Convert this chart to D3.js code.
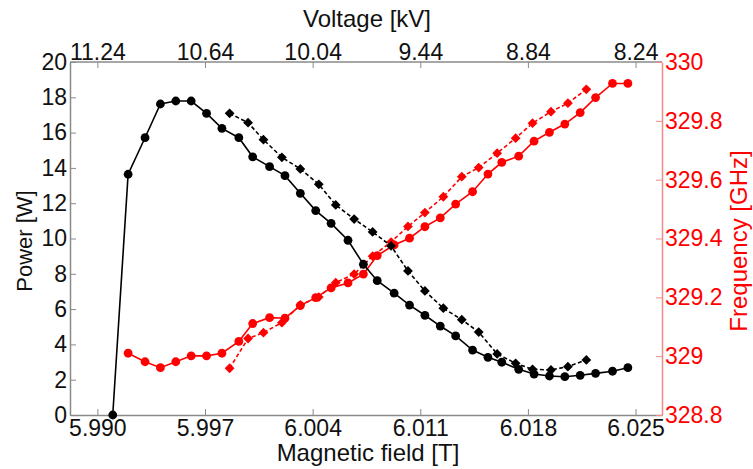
<!DOCTYPE html>
<html>
<head>
<meta charset="utf-8">
<script src="https://cdn.jsdelivr.net/npm/d3@7"></script>
<style>
  body { margin: 0; background: #fff; }
  svg { display: block; }
  text { font-family: "Liberation Sans", Arial, sans-serif; }
</style>
</head>
<body>
<svg id="chart" width="753" height="469"></svg>
<script>
// ---------- DATA ----------
// Sweep 1 (circles, solid)
const fieldSweep1 = [5.9910, 5.9920, 5.9931, 5.9941, 5.9951, 5.9961, 5.9971, 5.9981, 5.9992, 6.0001,
  6.0012, 6.0022, 6.0032, 6.0042, 6.0052, 6.0063, 6.0073, 6.0082, 6.0093, 6.0103,
  6.0113, 6.0123, 6.0133, 6.0144, 6.0154, 6.0163, 6.0174, 6.0184, 6.0194, 6.0204,
  6.0214, 6.0224, 6.0235, 6.0245];
const powerSweep1 = [0, 13.64, 15.71, 17.62, 17.79, 17.79, 17.09, 16.24, 15.71, 14.63,
  14.07, 13.56, 12.56, 11.58, 10.86, 9.90, 8.54, 7.61, 6.90, 6.23,
  5.65, 5.04, 4.48, 3.68, 3.27, 2.99, 2.59, 2.32, 2.21, 2.17,
  2.25, 2.36, 2.48, 2.68];
const fieldFreqSweep1 = [5.9920, 5.9931, 5.9941, 5.9951, 5.9961, 5.9971, 5.9981, 5.9992, 6.0001,
  6.0012, 6.0022, 6.0032, 6.0042, 6.0052, 6.0063, 6.0073, 6.0082, 6.0093, 6.0103,
  6.0113, 6.0123, 6.0133, 6.0144, 6.0154, 6.0163, 6.0174, 6.0184, 6.0194, 6.0204,
  6.0214, 6.0224, 6.0235, 6.0245];
const freqSweep1 = [329.010, 328.981, 328.961, 328.981, 329.001, 329.001, 329.010, 329.050, 329.111,
  329.131, 329.129, 329.172, 329.199, 329.232, 329.249, 329.279, 329.342, 329.378, 329.401,
  329.440, 329.470, 329.517, 329.559, 329.619, 329.659, 329.680, 329.731, 329.761, 329.789,
  329.828, 329.879, 329.927, 329.927];

// Sweep 2 (diamonds, dashed)
const fieldSweep2 = [5.9986, 5.9998, 6.0008, 6.0020, 6.0032, 6.0044, 6.0055, 6.0067, 6.0079, 6.0091,
  6.0102, 6.0113, 6.0125, 6.0137, 6.0148, 6.0160, 6.0172, 6.0183, 6.0195, 6.0206, 6.0218];
const powerSweep2 = [17.09, 16.56, 15.60, 14.60, 13.94, 13.07, 11.90, 11.10, 10.37, 9.58,
  8.16, 7.03, 6.05, 5.40, 4.70, 3.46, 2.93, 2.59, 2.55, 2.74, 3.12];
const freqSweep2 = [328.959, 329.060, 329.080, 329.114, 329.174, 329.201, 329.250, 329.279, 329.340, 329.388,
  329.441, 329.488, 329.542, 329.610, 329.641, 329.690, 329.741, 329.792, 329.831, 329.860, 329.907];

// Axis ticks
const fieldTicks = [5.990, 5.997, 6.004, 6.011, 6.018, 6.025];
const voltageTicks = [11.24, 10.64, 10.04, 9.44, 8.84, 8.24];
const powerTicks = [0, 2, 4, 6, 8, 10, 12, 14, 16, 18, 20];
const freqTicks = [328.8, 329.0, 329.2, 329.4, 329.6, 329.8, 330.0];

// ---------- CHART ----------
const svg = d3.select("#chart");
svg.append("rect").attr("width", 753).attr("height", 469).attr("fill", "#fff");

const pLeft = 70, pRight = 662, pTop = 62, pBottom = 415;
const tickFont = 23;
const titleFont = 24;
const axisGray = "#8a8a8a";
const red = "#ff0000";

const x = d3.scaleLinear().domain([5.98822, 6.02672]).range([pLeft, pRight]);
// Voltage maps linearly onto field: 11.24 kV <-> 5.990 T, 8.24 kV <-> 6.025 T
const xV = d3.scaleLinear().domain([11.24, 8.24]).range([x(5.990), x(6.025)]);
const yL = d3.scaleLinear().domain([0, 20]).range([pBottom, pTop]);
const yR = d3.scaleLinear().domain([328.8, 330]).range([pBottom, pTop]);

function styleAxis(g, color, textColor) {
  g.selectAll(".domain").attr("stroke", color).attr("stroke-width", 1.5);
  g.selectAll(".tick line").attr("stroke", color).attr("stroke-width", 1);
  g.selectAll(".tick text").attr("fill", textColor).attr("font-size", tickFont)
    .attr("font-family", "Liberation Sans, Arial, sans-serif");
}

// Bottom axis
const gB = svg.append("g").attr("transform", `translate(0,${pBottom})`)
  .call(d3.axisBottom(x).tickValues(fieldTicks).tickFormat(d3.format(".3f"))
    .tickSizeInner(-6).tickSizeOuter(0).tickPadding(5));
styleAxis(gB, axisGray, "#111");

// Top axis
const gT = svg.append("g").attr("transform", `translate(0,${pTop})`)
  .call(d3.axisTop(xV).tickValues(voltageTicks).tickFormat(d3.format(".2f"))
    .tickSizeInner(-6).tickSizeOuter(0).tickPadding(2));
gT.select(".domain").remove();
svg.append("line").attr("x1", pLeft).attr("x2", pRight).attr("y1", pTop).attr("y2", pTop)
  .attr("stroke", axisGray).attr("stroke-width", 1.5);
styleAxis(gT, axisGray, "#111");

// Left axis
const gL = svg.append("g").attr("transform", `translate(${pLeft},0)`)
  .call(d3.axisLeft(yL).tickValues(powerTicks).tickFormat(d3.format("d"))
    .tickSizeInner(-6).tickSizeOuter(0).tickPadding(3));
styleAxis(gL, axisGray, "#111");

// Right axis
const gR = svg.append("g").attr("transform", `translate(${pRight},0)`)
  .call(d3.axisRight(yR).tickValues(freqTicks).tickFormat(d => String(+d.toFixed(1)))
    .tickSizeInner(-6).tickSizeOuter(0).tickPadding(3));
styleAxis(gR, "#f08a8a", red);

// Axis titles
svg.append("text").attr("x", 367).attr("y", 27).attr("text-anchor", "middle")
  .attr("font-size", titleFont).attr("fill", "#111").text("Voltage [kV]");
svg.append("text").attr("x", 368).attr("y", 461).attr("text-anchor", "middle")
  .attr("font-size", titleFont).attr("fill", "#111").text("Magnetic field [T]");
svg.append("text").attr("transform", "translate(32,241) rotate(-90)").attr("text-anchor", "middle")
  .attr("font-size", 22).attr("fill", "#111").text("Power [W]");
svg.append("text").attr("transform", "translate(747,241) rotate(-90)").attr("text-anchor", "middle")
  .attr("font-size", titleFont).attr("fill", red).text("Frequency [GHz]");

// Series drawing helpers
const diamond = d3.symbol().type(d3.symbolSquare).size(48);

function drawSeries(fields, values, yScale, color, dashed, marker) {
  const pts = fields.map((f, i) => [x(f), yScale(values[i])]);
  svg.append("path")
    .attr("d", d3.line()(pts))
    .attr("fill", "none")
    .attr("stroke", color)
    .attr("stroke-width", 1.6)
    .attr("stroke-dasharray", dashed ? "4,2.5" : null);
  const g = svg.append("g");
  if (marker === "circle") {
    g.selectAll("circle").data(pts).enter().append("circle")
      .attr("cx", d => d[0]).attr("cy", d => d[1]).attr("r", 4.4).attr("fill", color);
  } else {
    g.selectAll("path").data(pts).enter().append("path")
      .attr("d", diamond).attr("transform", d => `translate(${d[0]},${d[1]}) rotate(45)`).attr("fill", color);
  }
}

drawSeries(fieldFreqSweep1, freqSweep1, yR, red, false, "circle");
drawSeries(fieldSweep2, freqSweep2, yR, red, true, "diamond");
drawSeries(fieldSweep1, powerSweep1, yL, "#000", false, "circle");
drawSeries(fieldSweep2, powerSweep2, yL, "#000", true, "diamond");
</script>
</body>
</html>
